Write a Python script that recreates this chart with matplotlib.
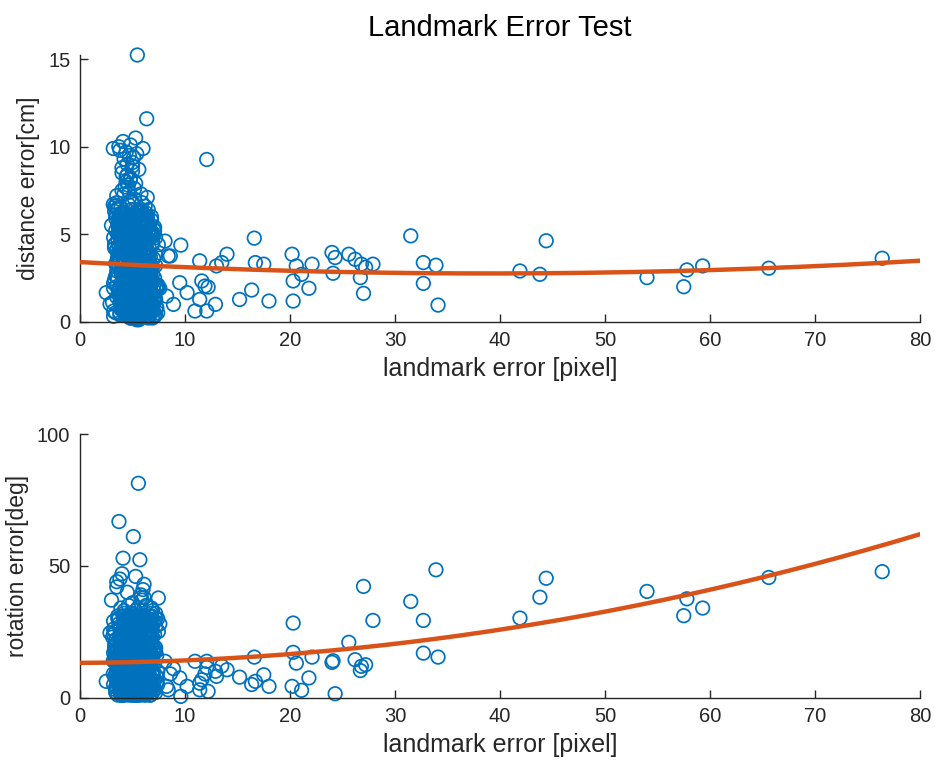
import numpy as np
import matplotlib
matplotlib.use("Agg")
import matplotlib.pyplot as plt

# -----------------------------
# data
# -----------------------------
# dense cluster near 3..7 px of landmark error (spread part)
cluster_x = [
    4.2, 5.1, 5.8, 4.6, 6.3, 5.4, 4.9, 3.8, 5.6, 6.0,
    4.4, 5.2, 6.6, 4.8, 5.5, 3.5, 5.9, 4.1, 6.2, 5.0,
    4.7, 5.3, 6.8, 4.3, 5.7, 3.9, 6.1, 5.0, 4.5, 5.6,
    3.2, 4.9, 5.4, 6.4, 4.0, 5.8, 7.0, 4.6, 5.2, 3.6,
    5.5, 4.3, 6.0, 4.8, 5.1, 6.7, 3.4, 5.9, 4.5, 5.3,
    4.0, 6.2, 5.0, 4.7, 5.7, 3.7, 6.5, 4.2, 5.4, 7.3,
    4.9, 5.6, 3.3, 6.1, 4.4, 5.2, 6.9, 4.8, 5.8, 3.9,
    5.1, 4.6, 6.3, 5.5, 3.0, 4.1, 5.9, 6.6, 4.7, 5.3,
    6.0, 4.5, 5.0, 3.6, 5.7, 4.2, 6.4, 5.4, 4.9, 7.6,
    4.3, 5.8, 5.1, 6.2, 3.8, 4.8, 5.6, 6.8, 4.0, 5.2,
    5.5, 3.1, 4.6, 6.1, 5.0, 4.4, 5.9, 7.1, 4.7, 5.3,
    4.1, 6.0, 5.4, 3.5, 4.9, 5.7, 6.5, 4.5, 5.2, 6.3,
    5.6, 4.2, 5.0, 6.7, 3.9, 4.8, 5.8, 4.4, 6.1, 5.3,
    4.7, 5.5, 3.4, 6.0, 5.1, 4.3, 6.4, 5.9, 4.6, 7.4,
    5.2, 4.0, 5.7, 6.2, 4.9, 3.7, 5.4, 6.9, 4.5, 5.0,
    6.6, 4.8, 5.3, 4.1, 5.8, 3.3, 6.0, 5.5, 4.4, 5.1,
    4.6, 5.9, 6.3, 4.2, 5.0, 7.2, 3.8, 5.6, 4.9, 6.1,
    5.4, 4.3, 6.5, 5.2, 3.6, 4.7, 5.7, 6.8, 4.0, 5.3,
]
cluster_dist = [
    2.1, 4.8, 7.3, 1.2, 3.5, 9.6, 0.4, 5.2, 2.9, 6.1,
    3.8, 0.9, 5.6, 8.2, 1.7, 4.1, 2.4, 10.3, 3.1, 6.8,
    0.6, 4.5, 2.2, 7.7, 3.4, 1.3, 5.9, 9.1, 2.7, 4.3,
    1.9, 6.4, 3.6, 0.3, 8.8, 2.5, 4.9, 1.1, 7.0, 3.2,
    5.3, 2.0, 9.9, 4.0, 0.7, 3.7, 6.6, 1.5, 8.4, 2.8,
    4.6, 1.0, 3.3, 7.4, 2.3, 5.7, 0.5, 9.3, 3.9, 1.8,
    6.9, 2.6, 4.4, 1.4, 8.0, 3.0, 5.1, 10.1, 0.8, 4.7,
    2.0, 7.8, 3.5, 0.2, 5.5, 1.6, 6.3, 2.9, 9.5, 4.2,
    1.2, 3.8, 8.6, 5.0, 2.4, 0.6, 7.1, 3.3, 4.9, 1.9,
    6.0, 0.9, 4.4, 2.7, 9.8, 3.6, 1.4, 5.8, 7.5, 2.1,
    3.0, 1.1, 6.7, 4.8, 0.4, 8.3, 2.2, 5.4, 3.7, 10.5,
    1.6, 4.0, 2.8, 7.2, 0.7, 5.0, 3.4, 9.0, 1.3, 6.2,
    4.5, 2.5, 8.9, 1.0, 6.5, 3.1, 0.3, 5.6, 2.0, 7.9,
    3.9, 0.8, 5.2, 2.3, 9.4, 4.1, 1.7, 6.8, 3.2, 0.5,
    7.6, 2.6, 4.6, 1.5, 3.8, 10.0, 5.9, 0.9, 2.4, 4.3,
    1.8, 8.1, 3.0, 5.3, 0.6, 6.6, 2.9, 4.0, 9.7, 1.2,
    5.7, 3.5, 0.4, 7.3, 2.1, 4.8, 1.4, 8.7, 3.6, 6.1,
    2.7, 4.9, 1.0, 6.4, 3.3, 0.7, 5.5, 2.2, 8.5, 4.4,
]
cluster_rot = [
    12, 28, 5, 19, 35, 8, 22, 3, 16, 41,
    25, 10, 31, 2, 18, 44, 7, 14, 27, 20,
    6, 33, 15, 24, 1, 11, 38, 21, 9, 29,
    17, 4, 26, 13, 47, 23, 8, 30, 2, 19,
    34, 14, 7, 22, 11, 28, 16, 3, 40, 25,
    9, 20, 36, 5, 27, 15, 24, 12, 31, 6,
    21, 1, 18, 43, 10, 26, 4, 32, 14, 23,
    13, 29, 8, 17, 37, 2, 22, 11, 19, 46,
    27, 6, 24, 15, 3, 33, 12, 20, 9, 28,
    16, 39, 5, 25, 14, 21, 30, 7, 18, 11,
    4, 23, 35, 10, 26, 17, 2, 29, 13, 20,
    31, 8, 19, 42, 12, 24, 6, 16, 27, 3,
    18, 26, 10, 22, 34, 7, 15, 28, 1, 21,
    9, 30, 14, 4, 20, 25, 11, 37, 17, 5,
    24, 12, 3, 29, 16, 8, 21, 33, 13, 26,
    6, 19, 27, 11, 38, 14, 2, 23, 17, 30,
    15, 22, 9, 32, 5, 18, 45, 10, 25, 13,
    20, 7, 28, 16, 1, 24, 12, 34, 4, 19,
]

# core of the cluster, where the rings merge into a solid blob
core_x = [
    4.5, 5.0, 5.5, 6.0, 4.2, 4.8, 5.3, 5.9, 6.4, 3.9,
    5.1, 4.6, 6.2, 5.7, 4.0, 5.4, 4.9, 6.6, 4.3, 5.8,
    4.7, 5.2, 3.8, 6.1, 5.6, 4.4, 6.8, 5.0, 4.1, 5.5,
    6.3, 4.9, 5.3, 4.6, 5.9, 3.7, 5.1, 6.5, 4.8, 5.7,
    4.3, 5.6, 6.0, 4.5, 5.2, 6.7, 4.0, 5.4, 5.8, 4.7,
    5.0, 6.2, 4.2, 5.5, 4.9, 5.9, 3.9, 6.4, 5.3, 4.6,
    5.7, 4.4, 5.1, 6.0, 4.8, 5.4, 6.6, 4.1, 5.6, 5.0,
    4.5, 6.1, 5.2, 3.8, 5.8, 4.7, 6.3, 5.5, 4.3, 6.9,
    5.3, 4.9, 5.9, 4.2, 6.5, 5.1, 4.6, 5.7, 6.2, 4.0,
    4.8, 5.4, 6.0, 5.0, 3.7, 5.6, 4.4, 6.7, 5.2, 4.7,
    6.1, 4.5, 5.3, 5.8, 4.9, 6.4, 4.2, 5.5, 5.0, 6.8,
    4.6, 5.9, 4.1, 5.2, 6.3, 4.8, 5.7, 3.9, 5.4, 6.0,
    5.1, 4.3, 6.6, 5.6, 4.7, 5.0, 6.2, 4.4, 5.8, 5.3,
    4.9, 6.5, 5.4, 4.0, 5.9, 4.6, 5.2, 6.1, 4.8, 5.6,
    5.7, 4.2, 6.0, 5.1, 4.5, 6.7, 5.5, 4.9, 3.8, 6.3,
    4.4, 5.3, 5.8, 4.7, 6.4, 5.0, 4.1, 5.6, 6.2, 5.2,
    6.0, 4.8, 5.4, 3.9, 5.9, 4.3, 6.6, 5.1, 4.6, 5.7,
    5.5, 6.2, 4.5, 5.0, 4.9, 5.8, 4.2, 6.4, 5.3, 4.7,
    4.0, 5.6, 6.1, 5.2, 4.4, 6.8, 5.7, 4.8, 5.1, 6.3,
    5.9, 4.6, 5.3, 6.5, 4.1, 5.4, 5.0, 4.3, 6.0, 5.6,
    4.7, 6.2, 5.5, 4.9, 5.8, 3.8, 6.7, 5.2, 4.5, 5.0,
    6.1, 5.3, 4.2, 5.7, 4.8, 6.4, 5.1, 4.4, 5.9, 5.4,
    4.6, 5.0, 6.3, 4.0, 5.6, 5.2, 4.9, 6.6, 4.3, 5.8,
    5.5, 4.7, 5.1, 6.0, 4.5, 5.7, 6.2, 4.1, 5.3, 6.9,
    4.8, 5.9, 4.4, 5.4, 6.5, 5.0, 4.2, 5.6, 6.1, 5.2,
]
core_dist = [
    0.3, 2.8, 4.6, 1.5, 5.9, 3.2, 0.8, 2.1, 4.0, 5.4,
    1.9, 3.7, 0.5, 6.2, 2.6, 4.8, 1.2, 3.4, 5.1, 0.9,
    4.3, 1.6, 5.7, 2.3, 0.2, 3.9, 6.0, 1.0, 2.9, 4.5,
    2.4, 5.3, 0.7, 3.6, 4.9, 1.8, 2.7, 6.4, 0.4, 3.1,
    5.0, 0.6, 3.3, 4.7, 1.3, 2.2, 5.6, 0.1, 3.8, 2.0,
    1.1, 4.4, 2.5, 0.3, 5.8, 3.5, 1.7, 4.1, 0.9, 6.1,
    3.0, 1.4, 5.2, 2.6, 0.5, 4.6, 3.9, 1.9, 5.5, 0.2,
    4.2, 2.9, 0.8, 5.0, 3.3, 1.2, 2.4, 6.3, 4.7, 1.6,
    0.6, 3.6, 4.9, 1.0, 2.2, 5.7, 0.4, 3.1, 1.8, 4.0,
    5.3, 2.0, 1.3, 4.4, 6.0, 0.7, 3.4, 2.7, 5.1, 1.5,
    2.3, 4.8, 0.2, 3.7, 1.1, 5.4, 2.9, 0.5, 4.3, 3.0,
    1.7, 0.9, 5.9, 2.5, 4.1, 3.2, 0.3, 6.2, 1.9, 4.6,
    3.5, 5.6, 1.4, 0.6, 2.8, 4.5, 1.0, 3.8, 5.2, 2.1,
    0.8, 2.4, 4.0, 5.8, 1.6, 3.3, 0.4, 2.6, 4.9, 6.4,
    4.7, 1.2, 3.0, 0.2, 5.5, 2.2, 4.2, 1.8, 3.6, 0.7,
    2.0, 4.4, 0.5, 3.9, 1.3, 5.1, 2.7, 6.0, 0.9, 3.4,
    5.6, 0.3, 2.3, 4.8, 3.1, 1.5, 5.3, 0.6, 2.9, 4.1,
    1.0, 3.7, 5.0, 1.7, 0.4, 4.3, 2.5, 3.2, 6.1, 0.8,
    3.9, 2.1, 0.7, 5.4, 4.6, 1.1, 3.5, 0.2, 2.6, 5.7,
    0.5, 4.9, 3.3, 1.4, 2.8, 6.3, 0.9, 4.0, 1.9, 3.0,
    2.7, 0.6, 4.5, 3.6, 1.2, 5.9, 2.2, 0.3, 4.8, 1.6,
    4.4, 3.1, 1.8, 0.4, 5.2, 2.4, 3.8, 5.5, 0.8, 2.0,
    1.3, 5.7, 2.9, 4.1, 0.1, 3.4, 1.5, 4.7, 6.2, 0.6,
    3.2, 0.9, 4.2, 2.3, 5.0, 1.0, 2.6, 3.7, 0.5, 4.5,
    0.2, 2.5, 6.0, 1.7, 3.9, 4.8, 0.7, 2.1, 5.3, 1.4,
]
core_rot = [
    3, 18, 27, 9, 14, 22, 6, 31, 12, 1,
    20, 8, 25, 15, 4, 29, 11, 17, 2, 23,
    13, 26, 5, 19, 30, 10, 16, 1, 24, 7,
    28, 12, 21, 3, 17, 9, 32, 14, 6, 19,
    10, 24, 2, 15, 27, 5, 18, 11, 29, 4,
    16, 7, 30, 13, 1, 22, 8, 25, 12, 20,
    6, 19, 11, 28, 14, 3, 24, 9, 17, 31,
    21, 2, 15, 8, 26, 12, 5, 18, 23, 10,
    1, 27, 9, 20, 13, 30, 4, 16, 7, 25,
    14, 5, 22, 11, 3, 18, 29, 8, 26, 15,
    24, 10, 17, 2, 28, 6, 13, 21, 9, 32,
    7, 23, 12, 19, 4, 27, 15, 1, 20, 11,
    18, 3, 26, 9, 16, 24, 6, 30, 13, 2,
    29, 14, 5, 21, 10, 1, 25, 12, 18, 8,
    4, 20, 31, 7, 23, 15, 2, 17, 27, 11,
    22, 9, 13, 28, 3, 19, 10, 24, 6, 16,
    12, 26, 1, 17, 8, 30, 14, 4, 21, 25,
    5, 15, 23, 11, 29, 2, 18, 9, 13, 27,
    19, 7, 28, 3, 14, 22, 10, 31, 16, 1,
    26, 12, 4, 20, 9, 17, 24, 6, 28, 13,
    8, 30, 16, 2, 21, 11, 5, 25, 14, 19,
    15, 1, 23, 27, 7, 13, 29, 3, 18, 10,
    31, 17, 6, 12, 24, 4, 20, 15, 9, 26,
    2, 22, 14, 29, 11, 18, 7, 26, 1, 16,
    23, 10, 19, 5, 30, 8, 27, 13, 21, 3,
]

# flanks of the blob (left and right edges)
edge_x = [
    3.4, 6.6, 3.9, 7.0, 3.6, 6.3, 4.2, 6.9, 3.3, 6.5,
    4.0, 7.2, 3.7, 6.4, 4.3, 6.8, 3.5, 6.2, 4.1, 7.1,
    3.8, 6.7, 3.2, 6.3, 4.4, 7.3, 3.6, 6.6, 3.9, 6.9,
    4.2, 6.4, 3.4, 7.0, 3.7, 6.2, 4.0, 6.8, 3.5, 6.5,
    3.3, 7.2, 4.3, 6.3, 3.8, 6.7, 4.1, 7.4, 3.6, 6.4,
    3.9, 6.9, 3.5, 6.6, 4.2, 7.1, 3.7, 6.2, 4.4, 6.8,
    3.4, 6.5, 4.0, 7.0, 3.2, 6.3, 3.8, 6.7, 4.3, 7.2,
    3.6, 6.4, 4.1, 6.9, 3.5, 6.6, 3.9, 7.3, 4.2, 6.2,
    3.7, 6.8, 3.3, 6.5, 4.0, 7.1, 3.6, 6.3, 4.4, 6.7,
    3.8, 7.0, 4.2, 6.4, 3.4, 6.9, 4.1, 6.6, 3.5, 7.2,
    4.3, 6.2, 3.9, 6.8, 3.7, 6.5, 3.2, 7.4, 4.0, 6.3,
    3.5, 6.7, 4.4, 7.1, 3.6, 6.4, 3.8, 6.9, 4.1, 6.6,
    3.3, 7.0, 3.9, 6.2, 4.2, 6.8, 3.4, 6.5, 3.7, 7.3,
    4.0, 6.3, 3.6, 6.7, 4.3, 7.2, 3.5, 6.4, 3.8, 6.9,
    4.1, 6.6, 3.2, 7.1, 3.9, 6.2, 4.4, 6.8, 3.6, 6.5,
]
edge_dist = [
    0.5, 2.3, 4.1, 1.2, 3.6, 5.8, 0.9, 2.7, 6.3, 1.6,
    3.0, 0.4, 5.2, 2.0, 4.6, 1.1, 6.8, 3.3, 0.7, 2.5,
    4.9, 1.8, 0.3, 3.9, 2.2, 0.8, 5.5, 1.4, 3.2, 4.4,
    1.0, 6.0, 2.6, 0.6, 4.3, 3.5, 1.5, 5.1, 2.9, 0.2,
    2.4, 3.8, 1.3, 5.6, 0.5, 2.1, 4.7, 1.9, 6.5, 3.1,
    0.7, 4.5, 3.4, 1.0, 2.8, 0.3, 5.3, 4.0, 1.7, 2.4,
    6.1, 1.5, 0.9, 3.6, 4.8, 2.6, 0.4, 5.0, 2.2, 1.2,
    3.7, 0.6, 5.9, 2.3, 1.4, 4.2, 2.9, 0.8, 3.4, 6.6,
    1.9, 3.0, 4.4, 0.5, 5.7, 1.7, 2.5, 3.9, 0.9, 4.9,
    5.4, 2.0, 1.1, 4.6, 3.3, 0.2, 6.2, 2.7, 4.1, 1.3,
    0.4, 3.5, 2.8, 1.6, 5.0, 3.8, 0.6, 2.1, 4.5, 5.5,
    2.6, 1.0, 3.9, 0.3, 4.7, 6.0, 1.8, 3.1, 0.7, 2.3,
    4.2, 5.3, 0.8, 3.0, 2.4, 1.4, 5.9, 0.5, 3.6, 1.9,
    1.5, 4.0, 6.4, 2.7, 0.4, 3.2, 2.0, 4.8, 1.1, 0.9,
    3.3, 0.3, 2.2, 5.2, 1.6, 4.4, 2.9, 0.6, 5.6, 3.7,
]
edge_rot = [
    4, 21, 12, 28, 7, 16, 25, 2, 19, 10,
    14, 30, 6, 22, 11, 3, 18, 27, 9, 24,
    17, 1, 26, 13, 20, 8, 31, 5, 15, 23,
    29, 11, 3, 19, 14, 25, 6, 21, 10, 2,
    8, 27, 16, 4, 23, 12, 1, 30, 18, 13,
    22, 5, 13, 26, 9, 17, 28, 3, 20, 7,
    2, 15, 24, 10, 29, 6, 19, 12, 4, 32,
    18, 9, 1, 23, 14, 27, 8, 16, 25, 5,
    11, 24, 20, 7, 3, 13, 30, 21, 15, 1,
    26, 4, 17, 12, 22, 9, 2, 28, 6, 19,
    13, 20, 8, 31, 5, 16, 24, 10, 1, 27,
    7, 29, 14, 3, 18, 11, 23, 4, 21, 15,
    25, 6, 19, 16, 1, 28, 9, 13, 30, 8,
    3, 17, 11, 22, 26, 2, 14, 7, 24, 20,
    12, 23, 5, 18, 10, 31, 4, 26, 15, 9,
]

# outliers of the cluster and the sparse tail
tail_x = [5.46, 5.56, 6.35, 3.71, 5.08, 3.17, 3.17, 4.1, 5.7, 7.46, 7.46, 2.86, 2.5, 8.4,
          8.1, 8.25, 8.6, 8.9, 9.5, 9.6, 10.2, 10.95, 11.4, 11.4, 11.6, 11.9, 12.07, 12.07,
          12.2, 12.9, 13.0, 13.5, 14.0, 15.2, 16.35, 16.6, 16.7, 17.5, 18.0, 20.2, 20.3,
          20.3, 20.6, 21.1, 21.8, 22.1, 24.0, 24.1, 24.3, 25.6, 26.2, 26.7, 26.8, 27.0,
          27.2, 27.9, 31.5, 32.7, 32.7, 33.9, 34.1,
          41.9, 43.8, 44.4, 54.0, 57.5, 57.8, 59.3, 65.6, 76.4]
tail_dist = [15.25, 6.0, 11.6, 4.0, 2.5, 9.9, 6.7, 3.0, 1.5, 2.0, 4.4, 1.0, 1.65, 3.75,
             4.6, 1.45, 3.75, 0.98, 2.22, 4.37, 1.65, 0.6, 3.47, 1.26, 2.32, 2.03, 9.27, 0.6,
             1.97, 0.98, 3.18, 3.37, 3.85, 1.26, 1.8, 4.77, 3.37, 3.28, 1.17, 3.85, 2.32,
             1.17, 3.18, 2.7, 1.9, 3.28, 3.95, 2.76, 3.66, 3.85, 3.56, 2.51, 3.28, 1.61,
             3.1, 3.28, 4.9, 3.37, 2.18, 3.22, 0.94,
             2.89, 2.7, 4.62, 2.51, 1.99, 2.95, 3.18, 3.05, 3.62]
tail_rot = [18, 81.3, 23, 66.8, 61.1, 14, 9, 52.9, 52.3, 37.8, 25.1, 24.6, 6.2, 3,
            13.8, 4.3, 9.0, 11.0, 7.5, 0.5, 4.3, 13.8, 3.0, 5.5, 6.8, 9.0, 13.8, 11.5,
            2.4, 10.0, 8.1, 12.0, 10.6, 7.8, 5.0, 15.4, 6.2, 8.7, 4.3, 4.3, 28.3,
            17.2, 13.1, 2.8, 7.5, 15.4, 13.4, 14.0, 1.5, 21.0, 14.4, 10.3, 11.9, 42.2,
            12.5, 29.3, 36.5, 29.3, 16.9, 48.5, 15.4,
            30.2, 38.1, 45.3, 40.3, 31.1, 37.5, 34.0, 45.6, 47.8]

# quadratic fit coefficients (highest power first)
dist_fit = [0.000431, -0.0335, 3.40]
rot_fit = [0.007375, 0.020, 13.2]

landmark = np.array(cluster_x + core_x + edge_x + tail_x)
distance = np.array(cluster_dist + core_dist + edge_dist + tail_dist)
rotation = np.array(cluster_rot + core_rot + edge_rot + tail_rot)

BLUE = "#0072BD"
ORANGE = "#D95319"
GRAY = "#262626"

plt.rcParams["font.family"] = ["Liberation Sans", "DejaVu Sans"]

fig = plt.figure(figsize=(9.35, 7.72), dpi=100)
# axes placed in pixels of the 935x772 picture
ax1 = fig.add_axes([80 / 935, (772 - 321.5) / 772, 840 / 935, 266.5 / 772])
ax2 = fig.add_axes([80 / 935, (772 - 697.7) / 772, 840 / 935, 263.7 / 772])

xfit = np.linspace(0, 80, 200)


def style(ax, ylabel, yticks, ylim):
    ax.set_xlim(0, 80)
    ax.set_ylim(*ylim)
    ax.set_xticks(range(0, 81, 10))
    ax.set_yticks(yticks)
    for s in ["top", "right"]:
        ax.spines[s].set_visible(False)
    for s in ["left", "bottom"]:
        ax.spines[s].set_color(GRAY)
        ax.spines[s].set_linewidth(1.0)
    ax.tick_params(direction="in", length=6, width=1.0, colors=GRAY,
                   labelsize=14.5, pad=7)
    ax.set_xlabel("landmark error [pixel]", fontsize=18, color=GRAY, labelpad=5)
    ax.set_ylabel(ylabel, fontsize=16.5, color=GRAY, labelpad=6)


# -----------------------------
# top: distance error
# -----------------------------
ax1.scatter(landmark, distance, s=95, facecolors="none", edgecolors=BLUE,
            linewidths=1.25, clip_on=False, zorder=2)
ax1.plot(xfit, np.polyval(dist_fit, xfit), color=ORANGE, linewidth=3.2, zorder=3)
style(ax1, "distance error[cm]", [0, 5, 10, 15], (0, 15.25))
ax1.set_title("Landmark Error Test", fontsize=21, color="black", pad=14)

# -----------------------------
# bottom: rotation error
# -----------------------------
ax2.scatter(landmark, rotation, s=95, facecolors="none", edgecolors=BLUE,
            linewidths=1.25, clip_on=False, zorder=2)
ax2.plot(xfit, np.polyval(rot_fit, xfit), color=ORANGE, linewidth=3.2, zorder=3)
style(ax2, "rotation error[deg]", [0, 50, 100], (0, 100))

fig.savefig("out.png", dpi=100)
